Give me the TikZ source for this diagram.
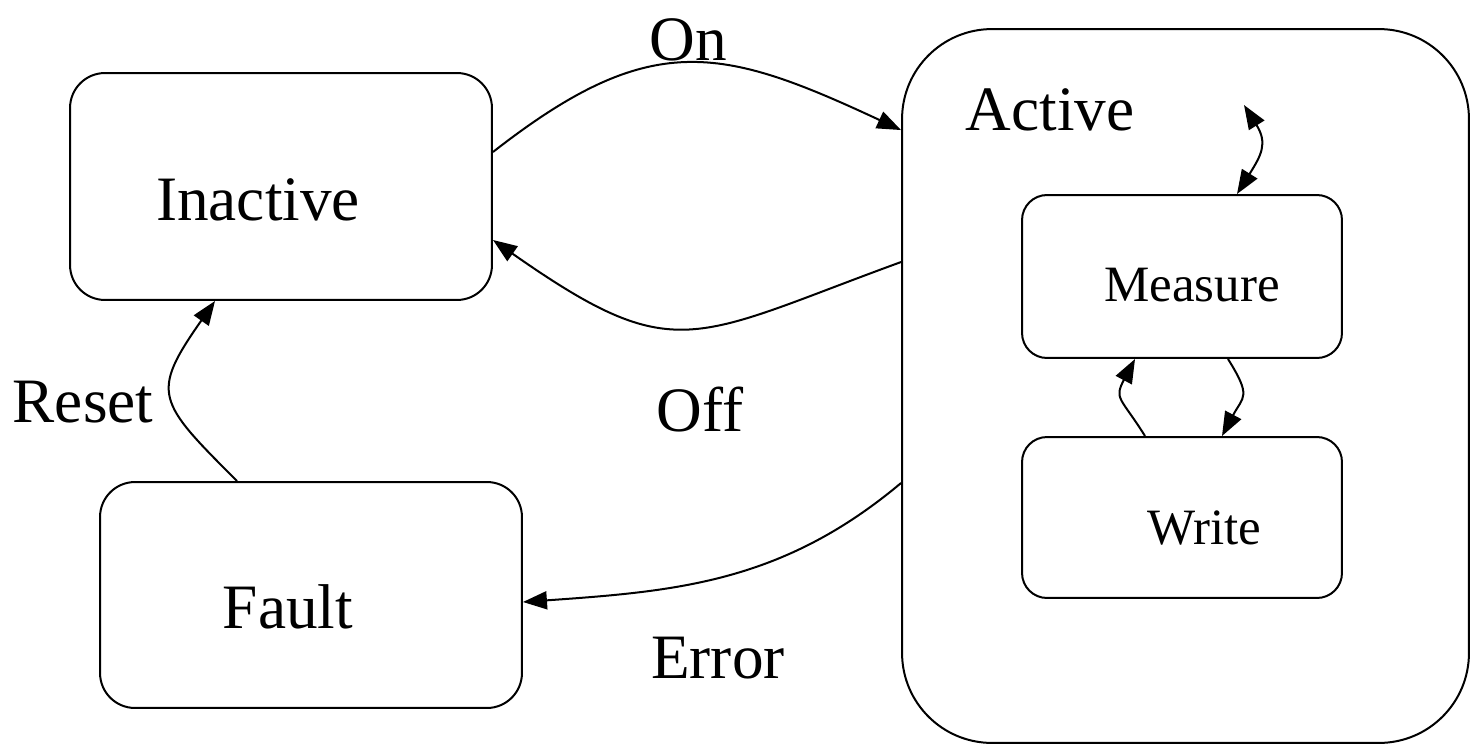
\documentclass[tikz,border=0pt]{standalone}
\usepackage{fontspec}
\setmainfont{Liberation Serif}
\usetikzlibrary{arrows.meta}

\tikzset{
  state/.style={draw, line width=0.04cm, rounded corners=0.7cm},
  bigtext/.style={font=\fontsize{36}{40}\selectfont},
  smalltext/.style={font=\fontsize{29}{33}\selectfont},
  arr/.style={-{Triangle[length=0.48cm,width=0.36cm]}},
  twoarr/.style={{Triangle[length=0.48cm,width=0.36cm]}-{Triangle[length=0.48cm,width=0.36cm]}},
}

\begin{document}
\begin{tikzpicture}[x=0.02cm,y=-0.02cm,line width=0.04cm]
\useasboundingbox (0,0) rectangle (1470,744);
% outer states
\node[state, minimum width=8.44cm, minimum height=4.54cm] (inactive) at (281,186.5) {};
\node[state, minimum width=8.44cm, minimum height=4.52cm] (fault) at (311,595) {};
\node[state, rounded corners=1.8cm, minimum width=11.34cm, minimum height=14.28cm] (active) at (1185.5,386) {};
% substates of Active
\node[state, rounded corners=0.5cm, minimum width=6.4cm, minimum height=3.26cm] (measure) at (1182,276.5) {};
\node[state, rounded corners=0.5cm, minimum width=6.4cm, minimum height=3.22cm] (write) at (1182,517.5) {};
\coordinate (loopend) at (1244,105);

\node[bigtext] (inactivetxt) at (258,200) {Inactive};
\node[bigtext] (faulttxt) at (288,607) {Fault};
\node[bigtext] (activetxt) at (1050,110) {Active};
\node[smalltext] (measuretxt) at (1192,285) {Measure};
\node[smalltext] (writetxt) at (1204,528) {Write};

% transitions
\draw[arr] ([yshift=0.69cm]inactive.east) to[out=38,in=155,looseness=1.25] ([yshift=5.12cm]active.west);
\node[bigtext] (on) at (688,40) {On};
\draw[arr] ([yshift=2.48cm]active.west) to[out=200,in=-35,looseness=1.4] ([yshift=-1.07cm]inactive.east);
\node[bigtext] (off) at (700,410) {Off};
\draw[arr] ([yshift=-1.94cm]active.west) to[out=220,in=4] ([yshift=-0.14cm]fault.east);
\node[bigtext] (error) at (718,658) {Error};
\draw[arr] ([xshift=-1.48cm]fault.north) to[out=135,in=-125,looseness=1.6] ([xshift=-1.32cm]inactive.south);
\node[bigtext] (reset) at (83,402) {Reset};

\draw[arr] ([xshift=0.92cm]measure.south) to[out=-58,in=62,looseness=1.5] ([xshift=0.8cm]write.north);
\draw[arr] ([xshift=-0.74cm]write.north) to[out=122,in=-118,looseness=1.5] ([xshift=-0.94cm]measure.south);
\draw[twoarr] ([xshift=1.1cm]measure.north) to[out=58,in=-58,looseness=1.3] (loopend);
\end{tikzpicture}
\end{document}
